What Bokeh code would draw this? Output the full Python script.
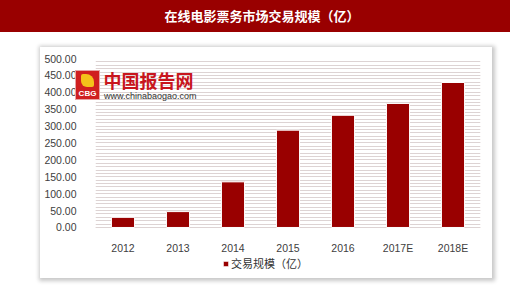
from bokeh.plotting import figure
from bokeh.models import (Div, Legend, LegendItem, Label, FactorRange, Range1d,
                          FixedTicker, NumeralTickFormatter)
from bokeh.layouts import column
from bokeh.embed import file_html
from bokeh.resources import INLINE

title_text = "在线电影票务市场交易规模（亿）"
categories = ["2012", "2013", "2014", "2015", "2016", "2017E", "2018E"]
values = [30, 47, 135, 288, 332, 367, 429]
series_name = "交易规模（亿）"
y_ticks = list(range(0, 501, 50))
y_minor = list(range(0, 501, 10))

BAR = "#990000"

emblem = ('<div style="position:absolute;left:75px;top:70px;width:25px;height:30px;'
          'background:#d01f1f;border:1px solid #e6a4a4;box-sizing:border-box;z-index:10;'
          'text-indent:0;line-height:normal;">'
          '<div style="position:absolute;left:5px;top:3px;width:13px;height:13px;'
          'background:#f4c21a;border-radius:2px 8px 2px 6px;"></div>'
          '<div style="position:absolute;left:0;bottom:1px;width:100%;text-align:center;'
          'color:white;font:bold 8px \'Liberation Sans\';">CBG</div></div>')

div = Div(text=title_text + emblem, width=510, height=32, margin=0,
          styles={"background-color": BAR, "color": "white", "font-size": "13px",
                  "font-weight": "bold", "text-align": "center", "line-height": "32px",
                  "font-family": "Noto Sans CJK SC", "text-indent": "14px",
                  "overflow": "visible", "position": "relative", "z-index": "5"})

p = figure(x_range=FactorRange(*categories), y_range=Range1d(-148, 500),
           width=452, height=231, output_backend="svg", toolbar_location=None,
           min_border_left=55, min_border_right=12, min_border_top=11, min_border_bottom=1,
           margin=(15, 18, 20, 40))
p.styles = {"box-shadow": "1px 1px 4px 2px #c8c8c8"}
p.outline_line_color = None
p.background_fill_color = "white"
p.border_fill_color = "white"

r = p.vbar(x=categories, top=values, width=0.42, fill_color=BAR, line_color="white", line_width=1)

p.yaxis.ticker = FixedTicker(ticks=y_ticks, minor_ticks=y_minor)
p.yaxis.formatter = NumeralTickFormatter(format="0.00")
p.xaxis.fixed_location = 0
for ax in (p.xaxis, p.yaxis):
    ax.axis_line_color = None
    ax.major_tick_line_color = None
    ax.minor_tick_line_color = None
    ax.major_label_text_font = "Liberation Sans"
    ax.major_label_text_font_size = "10.5px"
    ax.major_label_text_color = "#404040"
p.yaxis.major_label_standoff = 13
p.xaxis.major_label_standoff = 9

p.xgrid.grid_line_color = None
p.ygrid.grid_line_color = "#ddd3d3"
p.ygrid.minor_grid_line_color = "#ddd3d3"

legend = Legend(items=[LegendItem(label=series_name, renderers=[r])], location=(127, 6),
                glyph_width=7, glyph_height=7, label_standoff=2, padding=0, margin=0,
                label_height=14,
                label_text_font="Noto Sans CJK SC", label_text_font_size="11px",
                label_text_color="#333333", border_line_color=None, background_fill_color=None)
p.add_layout(legend)

# watermark text
p.add_layout(Label(x=0.145, y=436, text="中国报告网", text_align="left", text_baseline="middle",
                   text_font="Noto Sans CJK SC", text_font_size="18px", text_font_style="bold",
                   text_color="#c8161d"))
p.add_layout(Label(x=0.155, y=389, text="www.chinabaogao.com", text_align="left",
                   text_baseline="middle", text_font="Liberation Sans", text_font_size="9px",
                   text_color="#333333"))

layout = column(div, p, spacing=0)
open("out.html", "w").write(file_html(layout, INLINE))
